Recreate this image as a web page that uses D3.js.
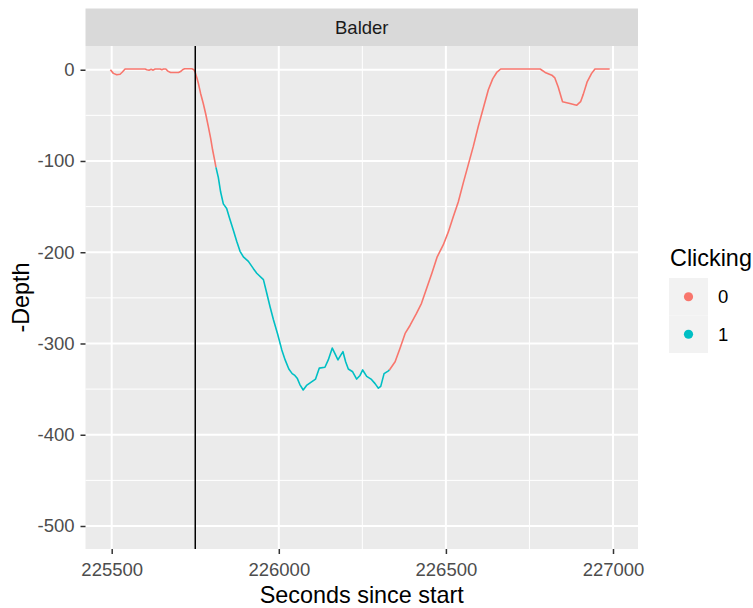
<!DOCTYPE html>
<html>
<head>
<meta charset="utf-8">
<script src="https://cdn.jsdelivr.net/npm/d3@7"></script>
<style>
  html, body { margin: 0; padding: 0; background: #ffffff; }
  svg { display: block; }
  text { font-family: "Liberation Sans", Arial, sans-serif; }
</style>
</head>
<body>
<svg id="chart" width="753" height="608"></svg>
<script>
// ---- data ----
const facetLabel = "Balder";
const xTicks = [225500, 226000, 226500, 227000];
const yTicks = [0, -100, -200, -300, -400, -500];
const xMinor = [225750, 226250, 226750];
const yMinor = [-50, -150, -250, -350, -450];
const vlineAt = 225750;
const clickLevels = ["0", "1"];
const clickColors = ["#F8766D", "#00BFC4"];

const seconds = [
  225496, 225505, 225515, 225525, 225532, 225540, 225600, 225605, 225612, 225618,
  225624, 225630, 225645, 225650, 225655, 225662, 225668, 225676, 225700, 225706,
  225712, 225718, 225740, 225746, 225750, 225755, 225760, 225766, 225774, 225781,
  225789, 225796, 225802, 225808, 225812, 225819, 225826, 225834, 225844, 225852,
  225864, 225874, 225884, 225894, 225909, 225924, 225934, 225954, 225964, 225974,
  225984, 225996, 226009, 226019, 226030, 226040, 226048, 226055, 226063, 226073,
  226083, 226098, 226110, 226121, 226138, 226148, 226160, 226168, 226177, 226185,
  226192, 226200, 226208, 226221, 226233, 226243, 226251, 226263, 226276, 226288,
  226298, 226305, 226315, 226328, 226331, 226348, 226363, 226378, 226393, 226412,
  226427, 226443, 226458, 226474, 226492, 226507, 226522, 226537, 226552, 226567,
  226582, 226597, 226612, 226627, 226640, 226652, 226664, 226782, 226797, 226817,
  226826, 226836, 226849, 226871, 226891, 226903, 226911, 226923, 226936, 226946,
  226990
];
const negDepth = [
  0, -4, -5.5, -5, -2.5, 0.8, 0.8, 0, -0.5, 0.5,
  -0.5, 0.8, 0.8, 0, 0.8, 0.8, -1.5, -3, -3, -2,
  0, 1, 1, 0, -3, -9, -16, -26, -37, -48,
  -62, -75, -88, -99, -107, -118, -134, -147, -152, -162,
  -176, -188, -199, -205, -210, -218, -223, -230, -245, -260,
  -274, -289, -307, -318, -328, -333, -335, -338, -345, -351,
  -346, -342, -339, -327, -326, -318, -305, -311, -318, -313,
  -309, -320, -328, -331, -339, -335, -329, -336, -339, -344,
  -349, -347, -333, -330, -329, -320, -305, -289, -280, -267,
  -256, -239, -223, -205, -192, -178, -161, -145, -124, -104,
  -84, -62, -42, -22, -10, -3, 0.8, 0.8, -3, -6,
  -9, -19, -35, -37, -39, -35, -27, -13, -4, 0.8,
  0.8
];
const clicking = [
  0, 0, 0, 0, 0, 0, 0, 0, 0, 0,
  0, 0, 0, 0, 0, 0, 0, 0, 0, 0,
  0, 0, 0, 0, 0, 0, 0, 0, 0, 0,
  0, 0, 0, 0, 1, 1, 1, 1, 1, 1,
  1, 1, 1, 1, 1, 1, 1, 1, 1, 1,
  1, 1, 1, 1, 1, 1, 1, 1, 1, 1,
  1, 1, 1, 1, 1, 1, 1, 1, 1, 1,
  1, 1, 1, 1, 1, 1, 1, 1, 1, 1,
  1, 1, 1, 1, 0, 0, 0, 0, 0, 0,
  0, 0, 0, 0, 0, 0, 0, 0, 0, 0,
  0, 0, 0, 0, 0, 0, 0, 0, 0, 0,
  0, 0, 0, 0, 0, 0, 0, 0, 0, 0,
  0
];

// ---- layout ----
const panel = { left: 85.5, right: 638, top: 46, bottom: 549 };
const strip = { top: 8.5, bottom: 46 };

const x = d3.scaleLinear().domain([225421.6, 227074.8]).range([panel.left, panel.right]);
const y = d3.scaleLinear().domain([-525.2, 26]).range([panel.bottom, panel.top]);
const color = d3.scaleOrdinal().domain([0, 1]).range(clickColors);

const svg = d3.select("#chart");

// strip
svg.append("rect")
  .attr("x", panel.left).attr("y", strip.top)
  .attr("width", panel.right - panel.left).attr("height", strip.bottom - strip.top)
  .attr("fill", "#D9D9D9");
svg.append("text")
  .attr("x", (panel.left + panel.right) / 2).attr("y", (strip.top + strip.bottom) / 2)
  .attr("dy", "0.35em").attr("text-anchor", "middle")
  .attr("font-size", 18.5).attr("fill", "#1A1A1A")
  .text(facetLabel);

// panel
svg.append("rect")
  .attr("x", panel.left).attr("y", panel.top)
  .attr("width", panel.right - panel.left).attr("height", panel.bottom - panel.top)
  .attr("fill", "#EBEBEB");

const grid = svg.append("g");
grid.selectAll(".xminor").data(xMinor).join("line")
  .attr("x1", d => x(d)).attr("x2", d => x(d))
  .attr("y1", panel.top).attr("y2", panel.bottom)
  .attr("stroke", "#fff").attr("stroke-width", 1);
grid.selectAll(".yminor").data(yMinor).join("line")
  .attr("y1", d => y(d)).attr("y2", d => y(d))
  .attr("x1", panel.left).attr("x2", panel.right)
  .attr("stroke", "#fff").attr("stroke-width", 1);
grid.selectAll(".xmajor").data(xTicks).join("line")
  .attr("x1", d => x(d)).attr("x2", d => x(d))
  .attr("y1", panel.top).attr("y2", panel.bottom)
  .attr("stroke", "#fff").attr("stroke-width", 2);
grid.selectAll(".ymajor").data(yTicks).join("line")
  .attr("y1", d => y(d)).attr("y2", d => y(d))
  .attr("x1", panel.left).attr("x2", panel.right)
  .attr("stroke", "#fff").attr("stroke-width", 2);

// data lines, split into runs of equal clicking state
const pts = seconds.map((s, i) => ({ s, v: negDepth[i], c: clicking[i] }));
const runs = [];
let cur = null;
pts.forEach((p, i) => {
  if (!cur || cur.c !== p.c) {
    if (cur) cur.points.push(p);
    cur = { c: p.c, points: [p] };
    runs.push(cur);
  } else {
    cur.points.push(p);
  }
});
const line = d3.line().x(d => x(d.s)).y(d => y(d.v));
svg.append("g").selectAll("path").data(runs).join("path")
  .attr("d", d => line(d.points))
  .attr("fill", "none")
  .attr("stroke", d => color(d.c))
  .attr("stroke-width", 1.6)
  .attr("stroke-linejoin", "round");

// vertical line
svg.append("line")
  .attr("x1", x(vlineAt)).attr("x2", x(vlineAt))
  .attr("y1", panel.top).attr("y2", panel.bottom)
  .attr("stroke", "#000").attr("stroke-width", 1.5);

// axes
const xAxis = svg.append("g")
  .attr("transform", `translate(0,${panel.bottom})`)
  .call(d3.axisBottom(x).tickValues(xTicks).tickFormat(d3.format("d")).tickSize(5).tickPadding(9));
const yAxis = svg.append("g")
  .attr("transform", `translate(${panel.left},0)`)
  .call(d3.axisLeft(y).tickValues(yTicks).tickFormat(d => d3.format("d")(d).replace("\u2212", "-")).tickSize(5).tickPadding(6));
[xAxis, yAxis].forEach(a => {
  a.select(".domain").remove();
  a.selectAll(".tick line").attr("stroke", "#333333").attr("stroke-width", 1.5);
  a.selectAll(".tick text")
    .attr("fill", "#4D4D4D").attr("font-size", 18.5)
    .attr("font-family", "Liberation Sans, Arial, sans-serif");
});

// axis titles
svg.append("text")
  .attr("x", (panel.left + panel.right) / 2).attr("y", 603)
  .attr("text-anchor", "middle").attr("font-size", 23.4).attr("fill", "#000")
  .text("Seconds since start");
svg.append("text")
  .attr("transform", `translate(29,${(panel.top + panel.bottom) / 2}) rotate(-90)`)
  .attr("text-anchor", "middle").attr("font-size", 23.4).attr("fill", "#000")
  .text("-Depth");

// legend
const lg = svg.append("g");
lg.append("text").attr("x", 670).attr("y", 266)
  .attr("font-size", 23.4).attr("fill", "#000").text("Clicking");
lg.selectAll(".keybg").data(clickLevels).join("rect")
  .attr("x", 669).attr("y", (d, i) => 278 + i * 37.5)
  .attr("width", 39).attr("height", 37.5)
  .attr("fill", "#F2F2F2");
lg.selectAll(".keypt").data(clickLevels).join("circle")
  .attr("cx", 688.5).attr("cy", (d, i) => 296.75 + i * 37.5)
  .attr("r", 4.6)
  .attr("fill", (d, i) => color(i));
lg.selectAll(".keylab").data(clickLevels).join("text")
  .attr("x", 718).attr("y", (d, i) => 296.75 + i * 37.5)
  .attr("dy", "0.35em").attr("font-size", 18.5).attr("fill", "#000")
  .text(d => d);
</script>
</body>
</html>
